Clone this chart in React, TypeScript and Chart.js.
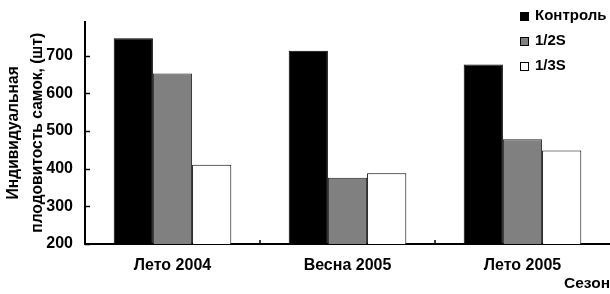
import React, { useEffect, useRef } from 'react';
import { Chart, registerables } from 'chart.js';

Chart.register(...registerables);

const categories = ['Лето 2004', 'Весна 2005', 'Лето 2005'];
const seriesNames = ['Контроль', '1/2S', '1/3S'];
const controlValues = [746, 713, 676];
const halfValues = [652, 376, 478];
const thirdValues = [410, 388, 448];
const yTickValues = [200, 300, 400, 500, 600, 700];
const yMin = 200;
const yMax = 790;
const yTitleLines = ['Индивидуальная', 'плодовитость самок, (шт)'];
const xTitleText = 'Сезон';

const FONT = '"Liberation Sans", Arial, sans-serif';

const floatLegend = {
  id: 'floatLegend',
  afterDraw(chart: any) {
    const ctx = chart.ctx;
    const x0 = chart.width - 90;
    const y0 = 16;
    const gap = 25;
    ctx.save();
    ctx.font = `bold 15px ${FONT}`;
    ctx.textBaseline = 'middle';
    ctx.textAlign = 'left';
    chart.data.datasets.forEach((ds: any, i: number) => {
      const y = y0 + i * gap;
      ctx.fillStyle = ds.backgroundColor;
      ctx.fillRect(x0, y - 4, 9, 9);
      ctx.strokeStyle = '#000';
      ctx.lineWidth = 1;
      ctx.strokeRect(x0 + 0.5, y - 3.5, 8, 8);
      ctx.fillStyle = '#000';
      ctx.fillText(ds.label, x0 + 15, y);
    });
    ctx.restore();
  },
};

const innerTicks = {
  id: 'innerTicks',
  afterDraw(chart: any) {
    const ctx = chart.ctx;
    const ys = chart.scales.y;
    const xs = chart.scales.x;
    const area = chart.chartArea;
    ctx.save();
    ctx.strokeStyle = '#000';
    ctx.lineWidth = 1.5;
    ctx.beginPath();
    ys.ticks.forEach((t: any) => {
      const py = Math.round(ys.getPixelForValue(t.value)) + 0.5;
      ctx.moveTo(area.left, py);
      ctx.lineTo(area.left + 5, py);
    });
    for (let i = 0; i < xs.ticks.length - 1; i++) {
      const px = Math.round((xs.getPixelForTick(i) + xs.getPixelForTick(i + 1)) / 2);
      ctx.moveTo(px, area.bottom);
      ctx.lineTo(px, area.bottom - 4);
    }
    ctx.stroke();
    ctx.restore();
  },
};

export default function App() {
  const ref = useRef<HTMLCanvasElement | null>(null);

  useEffect(() => {
    document.body.style.margin = '0';
    if (!ref.current) return;
    const chart = new Chart(ref.current, {
      type: 'bar',
      data: {
        labels: categories,
        datasets: [
          { label: seriesNames[0], data: controlValues, backgroundColor: '#000000', borderColor: '#000000', borderWidth: 1 },
          { label: seriesNames[1], data: halfValues, backgroundColor: '#808080', borderColor: '#202020', borderWidth: 1 },
          { label: seriesNames[2], data: thirdValues, backgroundColor: '#ffffff', borderColor: '#000000', borderWidth: 1 },
        ],
      },
      options: {
        animation: false,
        responsive: true,
        maintainAspectRatio: false,
        layout: { padding: { top: 13, right: 0, left: 0, bottom: 0 } },
        datasets: { bar: { barPercentage: 1, categoryPercentage: 0.672 } },
        plugins: { legend: { display: false }, tooltip: { enabled: false } },
        scales: {
          x: {
            grid: { display: false, drawTicks: false },
            border: { color: '#000', width: 2 },
            ticks: { color: '#000', padding: 12, font: { family: FONT, size: 16, weight: 'bold' } },
            title: {
              display: true,
              text: xTitleText,
              align: 'end',
              color: '#000',
              padding: { top: 0, bottom: 1 },
              font: { family: FONT, size: 15.5, weight: 'bold' },
            },
            afterFit(scale: any) { scale.height = 50; },
          },
          y: {
            min: yMin,
            max: yMax,
            grid: { display: false, drawTicks: false },
            border: { color: '#000', width: 2 },
            ticks: { color: '#000', padding: 12, font: { family: FONT, size: 16, weight: 'bold' } },
            afterBuildTicks(scale: any) {
              scale.ticks = yTickValues.map((v) => ({ value: v }));
            },
            title: {
              display: true,
              text: yTitleLines,
              color: '#000',
              padding: { top: 2, bottom: 0 },
              font: { family: FONT, size: 15.6, weight: 'bold', lineHeight: '24px' },
            },
            afterFit(scale: any) { scale.width = 85; },
          },
        },
      },
      plugins: [floatLegend, innerTicks],
    } as any);
    return () => chart.destroy();
  }, []);

  return (
    <div style={{ position: 'relative', width: 610, height: 294 }}>
      <canvas ref={ref} />
    </div>
  );
}
